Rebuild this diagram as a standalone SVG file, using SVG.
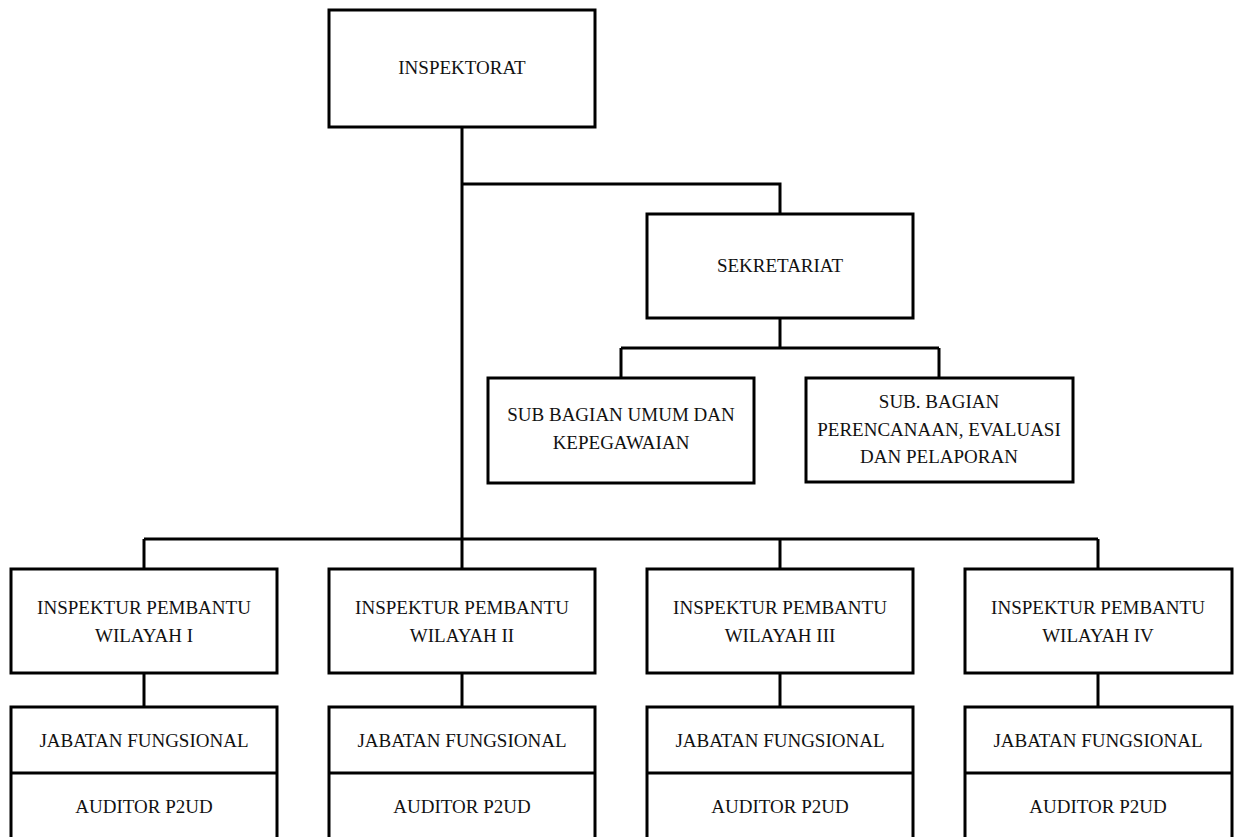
<svg xmlns="http://www.w3.org/2000/svg" width="1236" height="837" viewBox="0 0 1236 837">
<style>
.box{fill:#fff;stroke:#000;stroke-width:3}
.ln{fill:none;stroke:#000;stroke-width:3}
text{font-family:"Liberation Serif","Times New Roman",serif;font-size:19px;fill:#111;text-anchor:middle}
</style>
<rect width="1236" height="837" fill="#fff"/>
<g id="connectors">
<path class="ln" d="M462 127 V569"/>
<path class="ln" d="M462 184 H780 V214"/>
<path class="ln" d="M780 318 V348"/>
<path class="ln" d="M621 348 H939"/>
<path class="ln" d="M621 348 V378"/>
<path class="ln" d="M939 348 V378"/>
<path class="ln" d="M144 539 H1098"/>
<path class="ln" d="M144 539 V569"/>
<path class="ln" d="M780 539 V569"/>
<path class="ln" d="M1098 539 V569"/>
<path class="ln" d="M144 673 V707"/>
<path class="ln" d="M462 673 V707"/>
<path class="ln" d="M780 673 V707"/>
<path class="ln" d="M1098 673 V707"/>
</g>
<g id="inspektorat"><rect class="box" x="329" y="10" width="266" height="117"/><text x="462" y="74">INSPEKTORAT</text></g>
<g id="sekretariat"><rect class="box" x="647" y="214" width="266" height="104"/><text x="780" y="272">SEKRETARIAT</text></g>
<g id="subumum"><rect class="box" x="488" y="378" width="266" height="105"/><text x="621" y="421">SUB BAGIAN UMUM DAN</text><text x="621" y="449">KEPEGAWAIAN</text></g>
<g id="subperencanaan"><rect class="box" x="806" y="378" width="267" height="104"/><text x="939" y="408">SUB. BAGIAN</text><text x="939" y="436">PERENCANAAN, EVALUASI</text><text x="939" y="463">DAN PELAPORAN</text></g>
<g id="irban1"><rect class="box" x="11" y="569" width="266" height="104"/><text x="144" y="614">INSPEKTUR PEMBANTU</text><text x="144" y="642">WILAYAH I</text></g>
<g id="irban2"><rect class="box" x="329" y="569" width="266" height="104"/><text x="462" y="614">INSPEKTUR PEMBANTU</text><text x="462" y="642">WILAYAH II</text></g>
<g id="irban3"><rect class="box" x="647" y="569" width="266" height="104"/><text x="780" y="614">INSPEKTUR PEMBANTU</text><text x="780" y="642">WILAYAH III</text></g>
<g id="irban4"><rect class="box" x="965" y="569" width="267" height="104"/><text x="1098" y="614">INSPEKTUR PEMBANTU</text><text x="1098" y="642">WILAYAH IV</text></g>
<g id="jf1"><rect class="box" x="11" y="707" width="266" height="140"/><path class="ln" d="M11 773 H277"/><text x="144" y="747">JABATAN FUNGSIONAL</text><text x="144" y="813">AUDITOR P2UD</text></g>
<g id="jf2"><rect class="box" x="329" y="707" width="266" height="140"/><path class="ln" d="M329 773 H595"/><text x="462" y="747">JABATAN FUNGSIONAL</text><text x="462" y="813">AUDITOR P2UD</text></g>
<g id="jf3"><rect class="box" x="647" y="707" width="266" height="140"/><path class="ln" d="M647 773 H913"/><text x="780" y="747">JABATAN FUNGSIONAL</text><text x="780" y="813">AUDITOR P2UD</text></g>
<g id="jf4"><rect class="box" x="965" y="707" width="267" height="140"/><path class="ln" d="M965 773 H1232"/><text x="1098" y="747">JABATAN FUNGSIONAL</text><text x="1098" y="813">AUDITOR P2UD</text></g>
</svg>
